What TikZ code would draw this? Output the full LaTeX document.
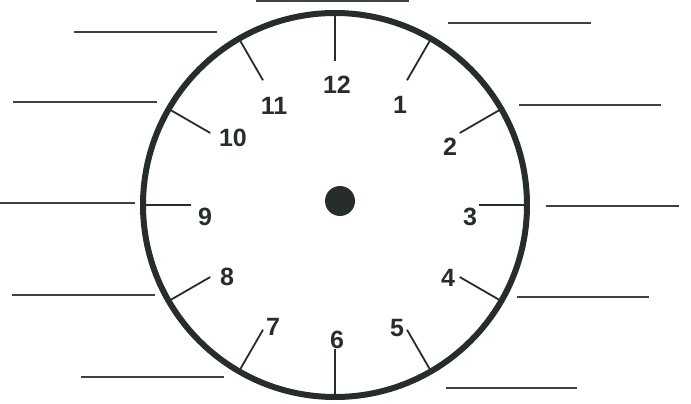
\documentclass[tikz,border=0pt]{standalone}
\usepackage{fontspec}
\setmainfont{Liberation Sans}
\usetikzlibrary{calc}
\definecolor{ink}{HTML}{262D2B}

\begin{document}
\begin{tikzpicture}[x=1pt, y=-1pt, font=\fontsize{25}{25}\selectfont\bfseries]

  \useasboundingbox (0,0) rectangle (691,404);

  % ── Answer lines ──────────────────────────────────────────────────
  \foreach \xa/\xb/\y in {256/409/1,
                          74/217/32, 13/157/102, 0/135/203, 12/155/295, 81/224/377,
                          448/591/23, 519/661/105, 546/679/206, 517/649/297, 446/577/388}{
    \draw[ink!90, line width=1.4pt] (\xa,\y) -- (\xb,\y);
  }

  % ── Clock face ────────────────────────────────────────────────────
  \coordinate (c) at (335,205);
  \draw[ink, line width=6pt] (c) circle[radius=192];
  \fill[ink] (340,201) circle[radius=15];

  % ── Hour ticks ────────────────────────────────────────────────────
  \foreach \h in {1,...,12}{
    \draw[ink, line width=1.8pt] ($(c)+(30*\h-90:190)$) -- ($(c)+(30*\h-90:144)$);
  }

  % ── Hour labels ───────────────────────────────────────────────────
  \foreach \h/\x/\y in {12/337/85, 1/400/105, 2/450/147, 3/470/217,
                        4/448/278, 5/397/328, 6/337/340, 7/273/327,
                        8/227/277, 9/205/217, 10/233/138, 11/274/106}{
    \node[text=ink, inner sep=0pt] (h\h) at (\x,\y) {\h};
  }

\end{tikzpicture}
\end{document}
